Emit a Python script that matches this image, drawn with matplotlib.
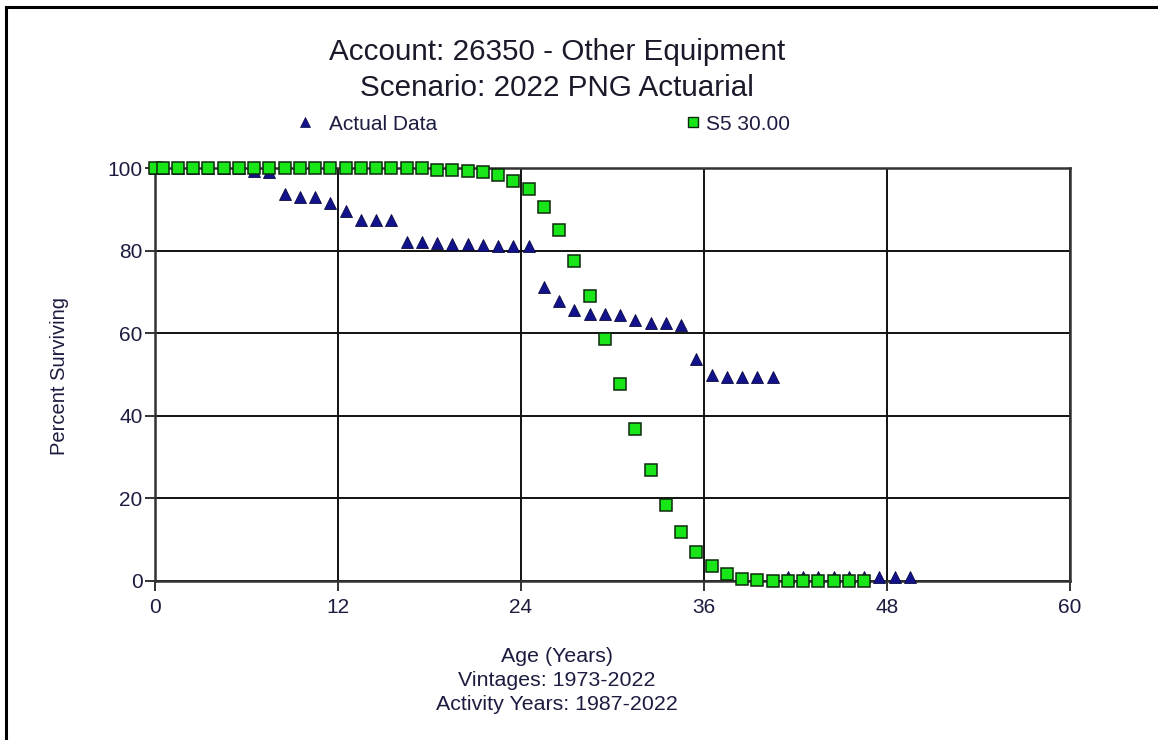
import matplotlib
matplotlib.use("Agg")
import matplotlib.pyplot as plt
from matplotlib.lines import Line2D

plt.rcParams['font.family'] = ['Liberation Sans', 'DejaVu Sans']

title_lines = ["Account: 26350 - Other Equipment", "Scenario: 2022 PNG Actuarial"]
xlabel_lines = ["Age (Years)", "Vintages: 1973-2022", "Activity Years: 1987-2022"]
ylabel = "Percent Surviving"
series_names = ["Actual Data", "S5 30.00"]

actual_ages = [0, 0.5, 1.5, 2.5, 3.5, 4.5, 5.5, 6.5, 7.5, 8.5, 9.5, 10.5, 11.5, 12.5,
               13.5, 14.5, 15.5, 16.5, 17.5, 18.5, 19.5, 20.5, 21.5, 22.5, 23.5, 24.5,
               25.5, 26.5, 27.5, 28.5, 29.5, 30.5, 31.5, 32.5, 33.5, 34.5, 35.5, 36.5,
               37.5, 38.5, 39.5, 40.5, 41.5, 42.5, 43.5, 44.5, 45.5, 46.5, 47.5, 48.5, 49.5]
actual_pct = [100, 100, 100, 100, 100, 100, 100, 99.2, 99.0, 93.8, 93.0, 93.0, 91.6, 89.6,
              87.5, 87.5, 87.5, 82.0, 82.0, 81.9, 81.6, 81.6, 81.3, 81.2, 81.0, 81.0,
              71.2, 67.7, 65.6, 64.6, 64.6, 64.5, 63.1, 62.5, 62.4, 61.9, 53.7, 49.9,
              49.3, 49.3, 49.3, 49.3, 1.0, 1.0, 1.0, 1.0, 1.0, 1.0, 1.0, 1.0, 1.0]

curve_ages = [0, 0.5, 1.5, 2.5, 3.5, 4.5, 5.5, 6.5, 7.5, 8.5, 9.5, 10.5, 11.5, 12.5,
              13.5, 14.5, 15.5, 16.5, 17.5, 18.5, 19.5, 20.5, 21.5, 22.5, 23.5, 24.5,
              25.5, 26.5, 27.5, 28.5, 29.5, 30.5, 31.5, 32.5, 33.5, 34.5, 35.5, 36.5,
              37.5, 38.5, 39.5, 40.5, 41.5, 42.5, 43.5, 44.5, 45.5, 46.5]
curve_pct = [100, 100, 100, 100, 100, 100, 100, 100, 100, 100, 100, 100, 100, 100,
             100, 100, 100, 100, 99.9, 99.6, 99.4, 99.3, 99.1, 98.3, 96.9, 94.8,
             90.6, 85.0, 77.6, 68.9, 58.7, 47.6, 36.7, 26.9, 18.4, 11.9, 7.1, 3.6,
             1.8, 0.6, 0.2, 0.05, 0, 0, 0, 0, 0, 0]

x_ticks = [0, 12, 24, 36, 48, 60]
y_ticks = [0, 20, 40, 60, 80, 100]

txt = '#1c1c40'
tri_col = '#12128c'
sq_col = '#19e619'

fig = plt.figure(figsize=(11.58, 7.40), dpi=100)
ax = fig.add_axes([155/1158, 1-581/740, (1070-155)/1158, (581-168)/740])

ax.set_xlim(0, 60)
ax.set_ylim(0, 100)
ax.set_xticks(x_ticks)
ax.set_yticks(y_ticks)
ax.grid(True, color='#111111', linewidth=1.4)
ax.set_axisbelow(True)
for s in ax.spines.values():
    s.set_color('#333333')
    s.set_linewidth(1.8)
ax.tick_params(axis='both', colors='#333333', length=7, width=1.4, labelsize=15,
               labelcolor=txt, direction='out')
ax.tick_params(axis='x', pad=5)
ax.tick_params(axis='y', pad=2)

ax.plot(actual_ages, actual_pct, linestyle='none', marker='^', markersize=9,
        markerfacecolor=tri_col, markeredgecolor='#0a0a40', markeredgewidth=0.6,
        clip_on=False, zorder=3)
ax.plot(curve_ages, curve_pct, linestyle='none', marker='s', markersize=9,
        markerfacecolor=sq_col, markeredgecolor='#0b2a0b', markeredgewidth=1.1,
        clip_on=False, zorder=4)

# Titles
fig.text(557/1158, 1-52/740, title_lines[0], ha='center', va='center', fontsize=21.3, color='#1a1a2a')
fig.text(557/1158, 1-88/740, title_lines[1], ha='center', va='center', fontsize=21.3, color='#1a1a2a')

# Legend entries
handles = [Line2D([], [], linestyle='none', marker='^', markersize=7, markerfacecolor=tri_col,
                  markeredgecolor='#0a0a40', markeredgewidth=0.5),
           Line2D([], [], linestyle='none', marker='s', markersize=7, markerfacecolor=sq_col,
                  markeredgecolor='#0b2a0b', markeredgewidth=1.0)]
leg_x = [297, 685]
leg_pad = [0.72, 0.2]
for h, name, lx, pad in zip(handles, series_names, leg_x, leg_pad):
    leg = fig.legend([h], [name], frameon=False, loc='center left',
                     bbox_to_anchor=(lx/1158, 1-124/740), fontsize=15, handlelength=0.8,
                     handletextpad=pad, borderaxespad=0, borderpad=0)
    for t in leg.get_texts():
        t.set_color(txt)

# Axis labels
fig.text(60/1158, 1-376/740, ylabel, rotation=90, ha='center', va='center', fontsize=14.5, color=txt)
for i, line in enumerate(xlabel_lines):
    fig.text(557/1158, 1-(657+24*i)/740, line, ha='center', va='center', fontsize=15.4, color=txt)

# Outer border (top and left visible)
fig.add_artist(Line2D([6/1158, 6/1158], [0, 1-7/740], color='black', linewidth=2.2,
                      transform=fig.transFigure))
fig.add_artist(Line2D([6/1158, 1], [1-7/740, 1-7/740], color='black', linewidth=2.2,
                      transform=fig.transFigure))

fig.savefig('out.png', dpi=100)
